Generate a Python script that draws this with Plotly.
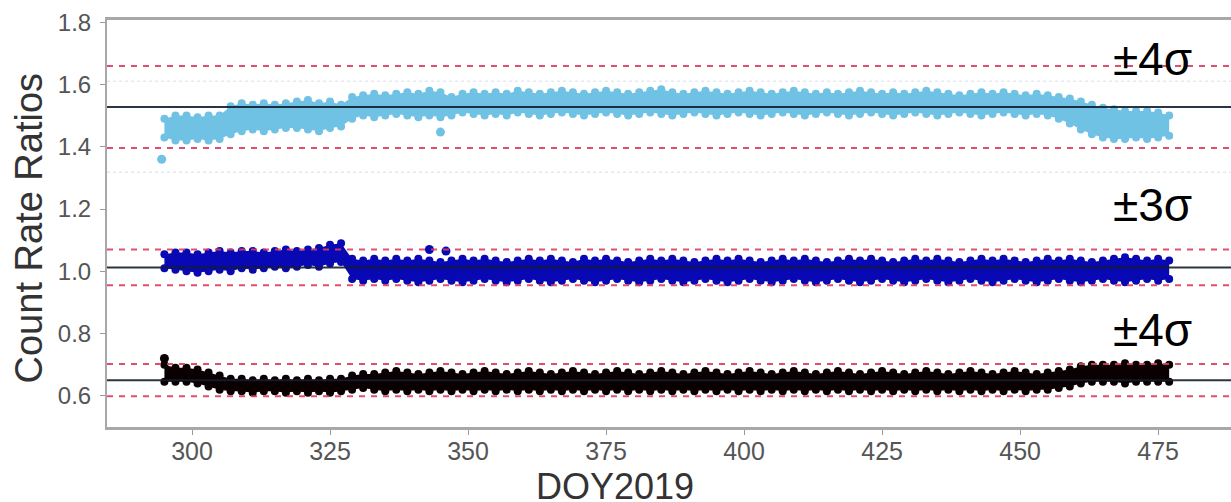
import plotly.graph_objects as go

# ---------------- data ----------------
days = list(range(295, 478, 2))  # sample days, 92 values

lb_hi = [1.49,1.50,1.50,1.495,1.50,1.50,1.53,1.54,1.535,1.54,
         1.535,1.54,1.545,1.55,1.54,1.545,1.535,1.56,1.565,1.57,
         1.565,1.57,1.575,1.57,1.58,1.575,1.56,1.57,1.575,1.57,
         1.575,1.57,1.58,1.575,1.57,1.575,1.58,1.575,1.57,1.575,
         1.58,1.575,1.57,1.575,1.58,1.585,1.575,1.57,1.575,1.58,
         1.575,1.57,1.575,1.58,1.575,1.57,1.575,1.58,1.575,1.57,
         1.575,1.57,1.575,1.58,1.575,1.57,1.575,1.57,1.575,1.58,
         1.575,1.57,1.565,1.57,1.575,1.57,1.575,1.57,1.565,1.57,
         1.565,1.56,1.555,1.545,1.535,1.525,1.52,1.515,1.515,1.515,
         1.51,1.50]
lb_lo = [1.43,1.42,1.42,1.425,1.42,1.425,1.44,1.45,1.455,1.45,
         1.455,1.46,1.46,1.455,1.45,1.46,1.465,1.49,1.50,1.495,
         1.50,1.505,1.50,1.495,1.50,1.495,1.50,1.51,1.505,1.50,
         1.505,1.50,1.51,1.505,1.50,1.505,1.51,1.505,1.50,1.505,
         1.51,1.505,1.50,1.505,1.51,1.505,1.50,1.505,1.51,1.505,
         1.50,1.505,1.51,1.505,1.50,1.505,1.51,1.505,1.50,1.505,
         1.51,1.505,1.50,1.505,1.51,1.505,1.50,1.505,1.51,1.505,
         1.50,1.505,1.51,1.505,1.50,1.505,1.51,1.505,1.50,1.505,
         1.50,1.49,1.475,1.455,1.44,1.43,1.425,1.425,1.43,1.425,
         1.43,1.435]
lb_out_x = [294.5, 345]
lb_out_y = [1.36, 1.447]

b_hi = [1.055,1.06,1.06,1.055,1.06,1.065,1.06,1.065,1.065,1.06,
        1.065,1.07,1.065,1.07,1.075,1.085,1.09,1.04,1.035,1.04,
        1.035,1.04,1.035,1.04,1.035,1.03,1.035,1.04,1.035,1.04,
        1.035,1.03,1.035,1.04,1.035,1.04,1.035,1.03,1.04,1.035,
        1.04,1.035,1.03,1.035,1.04,1.035,1.04,1.035,1.03,1.035,
        1.04,1.035,1.04,1.035,1.03,1.035,1.04,1.035,1.04,1.035,
        1.03,1.035,1.04,1.035,1.04,1.035,1.03,1.035,1.04,1.035,
        1.04,1.035,1.03,1.035,1.04,1.035,1.04,1.035,1.03,1.035,
        1.04,1.035,1.04,1.035,1.03,1.035,1.04,1.045,1.04,1.035,
        1.04,1.035]
b_lo = [1.01,1.005,1.0,0.995,1.0,1.005,1.0,1.01,1.005,1.01,
        1.015,1.01,1.015,1.02,1.015,1.025,1.03,0.975,0.97,0.975,
        0.97,0.975,0.97,0.965,0.97,0.975,0.97,0.965,0.97,0.975,
        0.97,0.965,0.97,0.975,0.97,0.965,0.97,0.975,0.97,0.965,
        0.97,0.975,0.97,0.965,0.97,0.975,0.97,0.965,0.97,0.975,
        0.97,0.965,0.97,0.975,0.97,0.965,0.97,0.975,0.97,0.965,
        0.97,0.975,0.97,0.965,0.97,0.975,0.97,0.965,0.97,0.975,
        0.97,0.965,0.97,0.975,0.97,0.965,0.97,0.975,0.97,0.965,
        0.97,0.975,0.97,0.965,0.97,0.975,0.97,0.965,0.97,0.975,
        0.97,0.975]
b_out_x = [343, 346]
b_out_y = [1.07, 1.065]

k_hi = [0.70,0.69,0.69,0.685,0.675,0.665,0.655,0.655,0.65,0.655,
        0.65,0.655,0.65,0.655,0.65,0.655,0.655,0.665,0.67,0.67,
        0.675,0.68,0.675,0.67,0.675,0.68,0.675,0.67,0.675,0.68,
        0.675,0.67,0.675,0.68,0.675,0.67,0.675,0.68,0.675,0.67,
        0.675,0.68,0.675,0.67,0.675,0.68,0.675,0.67,0.675,0.68,
        0.675,0.67,0.675,0.68,0.675,0.67,0.675,0.68,0.675,0.67,
        0.675,0.68,0.675,0.67,0.675,0.68,0.675,0.67,0.675,0.68,
        0.675,0.67,0.675,0.68,0.675,0.67,0.675,0.68,0.675,0.67,
        0.675,0.68,0.685,0.695,0.70,0.70,0.70,0.705,0.70,0.70,
        0.705,0.70]
k_lo = [0.645,0.645,0.645,0.64,0.63,0.62,0.615,0.615,0.61,0.615,
        0.615,0.61,0.615,0.61,0.615,0.61,0.615,0.62,0.625,0.62,
        0.615,0.62,0.615,0.62,0.615,0.62,0.615,0.62,0.615,0.62,
        0.615,0.62,0.615,0.62,0.615,0.62,0.615,0.62,0.615,0.62,
        0.615,0.62,0.615,0.62,0.615,0.62,0.615,0.62,0.615,0.62,
        0.615,0.62,0.615,0.62,0.615,0.62,0.615,0.62,0.615,0.62,
        0.615,0.62,0.615,0.62,0.615,0.62,0.615,0.62,0.615,0.62,
        0.615,0.62,0.615,0.62,0.615,0.62,0.615,0.62,0.615,0.62,
        0.62,0.625,0.63,0.64,0.645,0.645,0.645,0.64,0.645,0.645,
        0.645,0.645]
k_out_x = [295]
k_out_y = [0.72]

centers = [1.5275, 1.0125, 0.6505]
half_widths = [0.1315, 0.0575, 0.0515]
sigma_labels = ["±4σ", "±3σ", "±4σ"]
sigma_label_y = [1.682, 1.213, 0.81]

x_ticks = [300, 325, 350, 375, 400, 425, 450, 475]
y_ticks = [0.6, 0.8, 1.0, 1.2, 1.4, 1.6, 1.8]

# ---------------- figure ----------------
series = [
    (lb_lo, lb_hi, lb_out_x, lb_out_y, "#70c2e4"),
    (b_lo, b_hi, b_out_x, b_out_y, "#0808b4"),
    (k_lo, k_hi, k_out_x, k_out_y, "#0a0002"),
]

fig = go.Figure()
for lo, hi, ox, oy, col in series:
    fig.add_trace(go.Scatter(x=days, y=lo, mode="markers+lines",
                             line=dict(width=0, color=col),
                             marker=dict(size=8, color=col), hoverinfo="skip"))
    fig.add_trace(go.Scatter(x=days, y=hi, mode="markers+lines",
                             line=dict(width=0, color=col),
                             fill="tonexty", fillcolor=col,
                             marker=dict(size=8, color=col), hoverinfo="skip"))
    fig.add_trace(go.Scatter(x=ox, y=oy, mode="markers",
                             marker=dict(size=9, color=col), hoverinfo="skip"))

shapes = []
for c, h in zip(centers, half_widths):
    shapes.append(dict(type="line", xref="paper", x0=0, x1=1, yref="y", y0=c, y1=c,
                       line=dict(color="rgba(20,30,45,0.9)", width=2), layer="above"))
    for yv in (c - h, c + h):
        shapes.append(dict(type="line", xref="paper", x0=0, x1=1, yref="y", y0=yv, y1=yv,
                           line=dict(color="rgba(222,60,95,0.9)", width=2, dash="6px,6px"),
                           layer="above"))
# faint dotted guide lines
for yv in (1.61, 1.318):
    shapes.append(dict(type="line", xref="paper", x0=0, x1=1, yref="y", y0=yv, y1=yv,
                       line=dict(color="rgba(200,205,225,0.45)", width=1.5, dash="dot"),
                       layer="below"))

annotations = []
for t, yv in zip(sigma_labels, sigma_label_y):
    annotations.append(dict(text=t, xref="x", x=474, yref="y", y=yv, showarrow=False,
                            xanchor="center", yanchor="middle",
                            font=dict(family="Liberation Sans, Arial", size=46, color="#000")))
annotations.append(dict(text="Count Rate Ratios", textangle=-90, xref="paper", x=-0.0695,
                        yref="paper", y=0.49, showarrow=False, xanchor="center", yanchor="middle",
                        font=dict(family="Liberation Sans, Arial", size=38, color="#333")))
annotations.append(dict(text="DOY2019", xref="paper", x=0.452, yref="paper", y=-0.147,
                        showarrow=False, xanchor="center", yanchor="middle",
                        font=dict(family="Liberation Sans, Arial", size=36, color="#333")))

fig.update_layout(
    width=1231, height=502,
    margin=dict(l=107, r=0, t=20, b=75),
    paper_bgcolor="white", plot_bgcolor="white",
    showlegend=False,
    shapes=shapes, annotations=annotations,
    font=dict(family="Liberation Sans, Arial", color="#555"),
)
fig.update_xaxes(range=[284.6, 488.2], tickvals=x_ticks, ticks="outside", ticklen=5,
                 tickcolor="#999", tickfont=dict(size=25, color="#555"),
                 showline=True, linecolor="#a8a8a8", linewidth=3, mirror=True,
                 showgrid=False, zeroline=False, ticklabelstandoff=-5)
fig.update_yaxes(range=[0.5, 1.807], tickvals=y_ticks, ticktext=["0.6", "0.8", "1.0", "1.2", "1.4", "1.6", "1.8"],
                 ticks="outside", ticklen=5, tickcolor="#999",
                 tickfont=dict(size=24, color="#555"),
                 showline=True, linecolor="#a8a8a8", linewidth=2, mirror=False,
                 showgrid=False, zeroline=False, ticklabelstandoff=4)

fig.write_html("out.html")
